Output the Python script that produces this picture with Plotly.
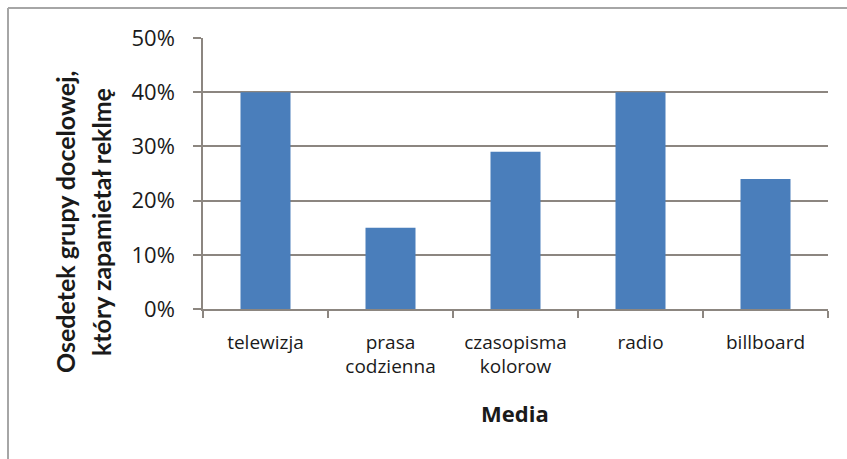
import plotly.graph_objects as go

categories = ["telewizja", "prasa<br>codzienna", "czasopisma<br>kolorow", "radio", "billboard"]
values = [0.40, 0.15, 0.29, 0.40, 0.24]
y_ticks = [0, 0.1, 0.2, 0.3, 0.4, 0.5]
y_tick_labels = ["0%", "10%", "20%", "30%", "40%", "50%"]
y_title_lines = ["Osedetek grupy docelowej,", "który zapamietał reklmę"]
x_title = "Media"

W, H = 847, 459
L, R, T, B = 203, 19, 38, 150
PW, PH = W - L - R, H - T - B


def px_x(x):
    return (x - L) / PW


def px_y(y):
    return (H - B - y) / PH


fig = go.Figure()
fig.add_trace(go.Bar(x=categories, y=values, marker=dict(color="#4a7ebb", line=dict(width=0)),
                     width=0.4))

tick_font = "'Open Sans', sans-serif"
title_font = "Lato, 'Open Sans', sans-serif"
axis_col = "#8c8680"
border_col = "#a6a6a6"
fig.update_layout(
    width=W, height=H,
    margin=dict(l=L, r=R, t=T, b=B, pad=0),
    paper_bgcolor="white", plot_bgcolor="white",
    showlegend=False,
    font=dict(family=tick_font, color="#1a1a1a"),
    xaxis=dict(
        tickfont=dict(size=19, color="#1a1a1a", family=tick_font),
        showline=True, linecolor=axis_col, linewidth=1.5,
        ticks="outside", tickson="boundaries", ticklen=7, tickcolor=axis_col, tickwidth=1.5,
        showgrid=False,
        ticklabelstandoff=15,
    ),
    yaxis=dict(
        range=[0, 0.5],
        tickvals=y_ticks, ticktext=y_tick_labels,
        tickfont=dict(size=22, color="#1a1a1a", family=tick_font),
        showline=True, linecolor=axis_col, linewidth=1.5,
        ticks="outside", ticklen=8, tickcolor=axis_col, tickwidth=1.5,
        showgrid=True, gridcolor=axis_col, gridwidth=1.5,
        zeroline=False,
        ticklabelstandoff=14,
    ),
    shapes=[
        dict(type="line", xref="paper", yref="paper",
             x0=px_x(8), x1=px_x(8), y0=px_y(470), y1=px_y(8),
             line=dict(color=border_col, width=2), layer="below"),
        dict(type="line", xref="paper", yref="paper",
             x0=px_x(8), x1=px_x(870), y0=px_y(8), y1=px_y(8),
             line=dict(color=border_col, width=2), layer="below"),
    ],
    annotations=[
        dict(text="<b>%s</b>" % y_title_lines[0], xref="paper", yref="paper",
             x=px_x(65), y=px_y(222), xanchor="center", yanchor="middle", textangle=-90,
             showarrow=False, font=dict(size=25, color="#1a1a1a", family=title_font)),
        dict(text="<b>%s</b>" % y_title_lines[1], xref="paper", yref="paper",
             x=px_x(101), y=px_y(222), xanchor="center", yanchor="middle", textangle=-90,
             showarrow=False, font=dict(size=25, color="#1a1a1a", family=title_font)),
        dict(text="<b>%s</b>" % x_title, xref="paper", yref="paper",
             x=px_x(515), y=px_y(413), xanchor="center", yanchor="middle",
             showarrow=False, font=dict(size=22, color="#1a1a1a", family=tick_font)),
    ],
)

fig.write_html("out.html", config={"displayModeBar": False})
